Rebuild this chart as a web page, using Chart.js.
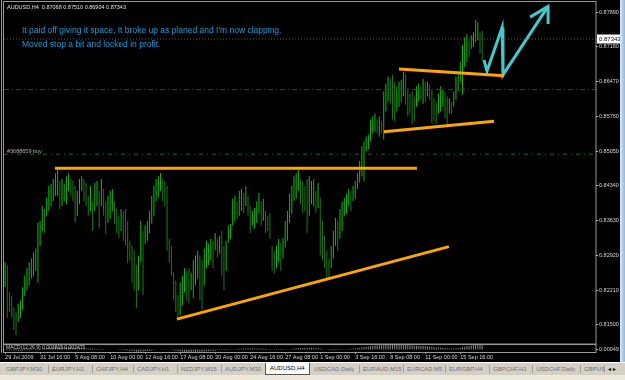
<!DOCTYPE html>
<html>
<head>
<meta charset="utf-8">
<script src="https://cdn.jsdelivr.net/npm/chart.js@4.4.0/dist/chart.umd.min.js"></script>
<style>
    body { margin: 0; background: #000; width: 625px; height: 380px; overflow: hidden; position: relative; font-family: "Liberation Sans", Arial, sans-serif; }
    #wrap { position: absolute; left: 0; top: 0; width: 625px; height: 362px; }
    #scroll { position: absolute; left: 620px; top: 0; width: 5px; height: 362px; background: linear-gradient(90deg, #dfeaf6, #8fb6de); }
    #tabs { position: absolute; left: 0; top: 362px; width: 625px; height: 12px; background: #d4d0c8; border-top: 1px solid #fff; }
    #foot { position: absolute; left: 0; top: 375px; width: 625px; height: 5px; background: #ece9d8; }
    .t { position: absolute; top: 2px; font-size: 6px; color: #707070; white-space: nowrap; border-left: 1px solid #a0a0a0; padding-left: 3px; line-height: 8px; }
    .t.act { top: 0; background: #fff; color: #000; border: 1px solid #555; border-top: none; padding: 1px 4px 2px 4px; }
</style>
</head>
<body>
<div id="wrap"><canvas id="chart"></canvas></div>
<div id="scroll"></div>
<div id="tabs">
    <span class="t" style="left:3px;border-left:none">GBPJPY,M30</span>
    <span class="t" style="left:48px">EURJPY,H1</span>
    <span class="t" style="left:92px">CHFJPY,H4</span>
    <span class="t" style="left:133px">CADJPY,H1</span>
    <span class="t" style="left:177px">NZDJPY,M15</span>
    <span class="t" style="left:221px">AUDJPY,M30</span>
    <span class="t act" style="left:265px">AUDUSD,H4</span>
    <span class="t" style="left:311px;border-left:none">USDCAD,Daily</span>
    <span class="t" style="left:359px">EURAUD,M15</span>
    <span class="t" style="left:403px">EURCAD,M5</span>
    <span class="t" style="left:445px">EURGBP,H4</span>
    <span class="t" style="left:489px">GBPCHF,H1</span>
    <span class="t" style="left:532px">USDCHF,Daily</span>
    <span class="t" style="left:580px">GBPUS</span>
    <span class="t" style="left:604px;color:#000">&#9666; &#9656;</span>
</div>
<div id="foot"></div>
<script>
// H4 bar ranges, AUDUSD 29 Jul - 16 Sep 2009
const highs = [
    0.8278, 0.8272, 0.8217, 0.8209, 0.8186, 0.8176, 0.8194, 0.8200, 0.8227, 0.8251,
    0.8266, 0.8278, 0.8286, 0.8298, 0.8306, 0.8359, 0.8363, 0.8393, 0.8387, 0.8410,
    0.8434, 0.8438, 0.8448, 0.8460, 0.8469, 0.8444, 0.8448, 0.8438, 0.8454, 0.8460,
    0.8448, 0.8444, 0.8434, 0.8424, 0.8448, 0.8454, 0.8448, 0.8440, 0.8414, 0.8434,
    0.8403, 0.8440, 0.8444, 0.8424, 0.8448, 0.8428, 0.8403, 0.8414, 0.8424, 0.8428,
    0.8403, 0.8387, 0.8373, 0.8387, 0.8383, 0.8387, 0.8363, 0.8322, 0.8312, 0.8302,
    0.8272, 0.8292, 0.8363, 0.8342, 0.8353, 0.8363, 0.8383, 0.8414, 0.8434, 0.8448,
    0.8454, 0.8460, 0.8448, 0.8444, 0.8434, 0.8326, 0.8312, 0.8257, 0.8241, 0.8211,
    0.8237, 0.8251, 0.8266, 0.8261, 0.8266, 0.8257, 0.8282, 0.8292, 0.8302, 0.8292,
    0.8282, 0.8306, 0.8322, 0.8316, 0.8326, 0.8322, 0.8338, 0.8326, 0.8332, 0.8342,
    0.8312, 0.8322, 0.8353, 0.8357, 0.8408, 0.8414, 0.8403, 0.8424, 0.8428, 0.8420,
    0.8434, 0.8414, 0.8393, 0.8383, 0.8389, 0.8403, 0.8420, 0.8403, 0.8408, 0.8383,
    0.8373, 0.8379, 0.8312, 0.8302, 0.8312, 0.8326, 0.8318, 0.8328, 0.8363, 0.8383,
    0.8418, 0.8434, 0.8454, 0.8460, 0.8469, 0.8448, 0.8444, 0.8434, 0.8448, 0.8454,
    0.8444, 0.8448, 0.8424, 0.8440, 0.8410, 0.8363, 0.8332, 0.8302, 0.8286, 0.8312,
    0.8342, 0.8369, 0.8363, 0.8387, 0.8403, 0.8410, 0.8418, 0.8428, 0.8424, 0.8434,
    0.8444, 0.8460, 0.8485, 0.8515, 0.8525, 0.8535, 0.8539, 0.8570, 0.8576, 0.8582,
    0.8570, 0.8576, 0.8566, 0.8627, 0.8643, 0.8657, 0.8653, 0.8661, 0.8647, 0.8637,
    0.8647, 0.8651, 0.8667, 0.8663, 0.8633, 0.8623, 0.8627, 0.8617, 0.8637, 0.8643,
    0.8637, 0.8653, 0.8647, 0.8647, 0.8641, 0.8631, 0.8613, 0.8606, 0.8623, 0.8637,
    0.8631, 0.8627, 0.8617, 0.8613, 0.8606, 0.8627, 0.8657, 0.8663, 0.8688, 0.8722,
    0.8738, 0.8744, 0.8732, 0.8742, 0.8748, 0.8773, 0.8769, 0.8748, 0.8751
];
const lows = [
    0.8227, 0.8164, 0.8176, 0.8166, 0.8139, 0.8129, 0.8156, 0.8164, 0.8180, 0.8209,
    0.8221, 0.8231, 0.8245, 0.8249, 0.8261, 0.8237, 0.8312, 0.8342, 0.8338, 0.8373,
    0.8383, 0.8393, 0.8403, 0.8414, 0.8414, 0.8387, 0.8393, 0.8403, 0.8397, 0.8424,
    0.8414, 0.8403, 0.8359, 0.8373, 0.8397, 0.8424, 0.8403, 0.8393, 0.8373, 0.8383,
    0.8342, 0.8383, 0.8393, 0.8347, 0.8393, 0.8373, 0.8336, 0.8359, 0.8367, 0.8383,
    0.8357, 0.8338, 0.8328, 0.8342, 0.8322, 0.8312, 0.8276, 0.8282, 0.8237, 0.8221,
    0.8184, 0.8221, 0.8278, 0.8211, 0.8316, 0.8322, 0.8338, 0.8357, 0.8373, 0.8403,
    0.8410, 0.8424, 0.8403, 0.8393, 0.8302, 0.8278, 0.8251, 0.8200, 0.8176, 0.8164,
    0.8170, 0.8190, 0.8217, 0.8200, 0.8194, 0.8221, 0.8205, 0.8231, 0.8245, 0.8200,
    0.8180, 0.8231, 0.8266, 0.8272, 0.8282, 0.8266, 0.8302, 0.8288, 0.8296, 0.8251,
    0.8221, 0.8261, 0.8318, 0.8326, 0.8353, 0.8363, 0.8367, 0.8373, 0.8383, 0.8377,
    0.8393, 0.8373, 0.8338, 0.8353, 0.8347, 0.8359, 0.8379, 0.8353, 0.8363, 0.8338,
    0.8342, 0.8326, 0.8261, 0.8255, 0.8266, 0.8278, 0.8261, 0.8286, 0.8308, 0.8322,
    0.8359, 0.8377, 0.8403, 0.8408, 0.8424, 0.8397, 0.8379, 0.8383, 0.8338, 0.8373,
    0.8397, 0.8393, 0.8379, 0.8389, 0.8292, 0.8282, 0.8266, 0.8245, 0.8243, 0.8266,
    0.8286, 0.8312, 0.8302, 0.8326, 0.8342, 0.8373, 0.8377, 0.8393, 0.8383, 0.8403,
    0.8408, 0.8428, 0.8440, 0.8454, 0.8444, 0.8505, 0.8509, 0.8525, 0.8541, 0.8545,
    0.8541, 0.8535, 0.8541, 0.8529, 0.8586, 0.8606, 0.8602, 0.8570, 0.8566, 0.8586,
    0.8596, 0.8606, 0.8617, 0.8600, 0.8576, 0.8582, 0.8560, 0.8566, 0.8596, 0.8606,
    0.8610, 0.8602, 0.8606, 0.8617, 0.8610, 0.8562, 0.8566, 0.8560, 0.8582, 0.8586,
    0.8596, 0.8572, 0.8556, 0.8582, 0.8582, 0.8596, 0.8610, 0.8627, 0.8647, 0.8621,
    0.8677, 0.8688, 0.8698, 0.8714, 0.8718, 0.8728, 0.8732, 0.8704, 0.8690
];
// MACD(12,26,9) main line, one value per bar
const macd = [
    -0.0010, -0.0012, -0.0014, -0.0016, -0.0019, -0.0022, -0.0023, -0.0023, -0.0021, -0.0018,
    -0.0015, -0.0011, -0.0007, -0.0003, 0.0001, 0.0006, 0.0011, 0.0017, 0.0022, 0.0027,
    0.0032, 0.0036, 0.0040, 0.0043, 0.0046, 0.0046, 0.0045, 0.0044, 0.0043, 0.0043,
    0.0041, 0.0039, 0.0035, 0.0032, 0.0031, 0.0030, 0.0028, 0.0026, 0.0023, 0.0021,
    0.0017, 0.0016, 0.0015, 0.0012, 0.0012, 0.0010, 0.0006, 0.0004, 0.0003, 0.0002,
    0.0000, -0.0003, -0.0006, -0.0008, -0.0011, -0.0013, -0.0018, -0.0022, -0.0027, -0.0032,
    -0.0038, -0.0040, -0.0037, -0.0036, -0.0032, -0.0028, -0.0023, -0.0016, -0.0009, -0.0003,
    0.0002, 0.0006, 0.0008, 0.0009, 0.0006, 0.0000, -0.0006, -0.0014, -0.0022, -0.0030,
    -0.0035, -0.0039, -0.0041, -0.0043, -0.0044, -0.0043, -0.0042, -0.0040, -0.0040, -0.0041,
    -0.0040, -0.0036, -0.0031, -0.0027, -0.0023, -0.0020, -0.0015, -0.0012, -0.0009, -0.0009,
    -0.0011, -0.0011, -0.0007, -0.0004, 0.0002, 0.0007, 0.0010, 0.0014, 0.0018, 0.0020,
    0.0023, 0.0024, 0.0022, 0.0020, 0.0019, 0.0019, 0.0020, 0.0019, 0.0018, 0.0015,
    0.0013, 0.0010, 0.0004, -0.0002, -0.0005, -0.0007, -0.0009, -0.0008, -0.0004, 0.0001,
    0.0007, 0.0013, 0.0019, 0.0024, 0.0029, 0.0030, 0.0030, 0.0030, 0.0030, 0.0030,
    0.0030, 0.0030, 0.0028, 0.0027, 0.0020, 0.0012, 0.0004, -0.0004, -0.0010, -0.0013,
    -0.0013, -0.0012, -0.0010, -0.0006, -0.0002, 0.0003, 0.0007, 0.0012, 0.0015, 0.0019,
    0.0023, 0.0028, 0.0034, 0.0042, 0.0048, 0.0055, 0.0060, 0.0067, 0.0073, 0.0077,
    0.0080, 0.0082, 0.0083, 0.0088, 0.0094, 0.0099, 0.0102, 0.0101, 0.0100, 0.0099,
    0.0098, 0.0097, 0.0097, 0.0094, 0.0089, 0.0084, 0.0078, 0.0074, 0.0072, 0.0070,
    0.0068, 0.0067, 0.0065, 0.0063, 0.0058, 0.0052, 0.0047, 0.0042, 0.0038, 0.0036,
    0.0033, 0.0029, 0.0025, 0.0022, 0.0020, 0.0021, 0.0025, 0.0029, 0.0035, 0.0044,
    0.0054, 0.0063, 0.0070, 0.0077, 0.0082, 0.0090, 0.0095, 0.0095, 0.0094
];

// axis ticks
const priceTicks = [0.87890, 0.87530, 0.87180, 0.86820, 0.86470, 0.86110, 0.85760, 0.85400, 0.85050, 0.84690,
    0.84340, 0.83980, 0.83630, 0.83270, 0.82920, 0.82570, 0.82210, 0.81860, 0.81500, 0.81150];
const timeTickBars = [0, 16, 32, 48, 64, 80, 96, 112, 128, 144, 160, 176, 192, 208];
const timeLabels = ['29 Jul 2009', '31 Jul 16:00', '5 Aug 08:00', '10 Aug 00:00', '12 Aug 16:00', '17 Aug 08:00',
    '20 Aug 00:00', '24 Aug 16:00', '27 Aug 08:00', '1 Sep 00:00', '3 Sep 16:00', '8 Sep 08:00', '11 Sep 00:00', '15 Sep 16:00'];
const macdTicks = [0.000498];

// drawn objects (bar index, price)
const resistance = [{x: 22.8, y: 0.8470}, {x: 188.2, y: 0.8470}];
const support = [{x: 78.5, y: 0.8162}, {x: 202.8, y: 0.8310}];
const channelTop = [{x: 180.0, y: 0.8673}, {x: 228.0, y: 0.8659}];
const channelBottom = [{x: 173.1, y: 0.8545}, {x: 223.4, y: 0.8566}];
const arrowPath = [{x: 218.8, y: 0.8691}, {x: 220.2, y: 0.8669}, {x: 227.1, y: 0.8758}, {x: 227.5, y: 0.8661}, {x: 248.1, y: 0.8801}];
const arrowHead = [{x: 239.9, y: 0.8779}, {x: 248.1, y: 0.8801}, {x: 248.1, y: 0.8765}];

// horizontal levels
const bidPrice = 0.87343;
const stopLevel = 0.8631;
const buyLevel = 0.8499;

const header = 'AUDUSD,H4  0.87068 0.87510 0.86904 0.87343';
const noteLines = ["It paid off giving it space, It broke up as planed and I'm now clapping.", 'Moved stop a bit and locked in profit.'];

const xMin = -0.5, xMax = 270;
const fontName = '"Liberation Sans", Arial, sans-serif';

function hLine(y) {
    return [{x: xMin, y: y}, {x: xMax, y: y}];
}

function lineSet(data, color, width, dash) {
    return {
        type: 'line',
        data: data,
        borderColor: color,
        borderWidth: width,
        borderDash: dash || [],
        pointRadius: 0,
        fill: false,
        tension: 0,
        yAxisID: 'y',
        order: 1
    };
}

const barColors = highs.map((h, i) => {
    if (i === 0) return '#10bc10';
    return (h + lows[i]) >= (highs[i - 1] + lows[i - 1]) ? '#10bc10' : '#1c7a1c';
});

// frames, texts and price marker
const decorPlugin = {
    id: 'decor',
    beforeDraw(chart) {
        const ctx = chart.ctx;
        ctx.save();
        ctx.fillStyle = '#000';
        ctx.fillRect(0, 0, chart.width, chart.height);
        ctx.restore();
    },
    afterDraw(chart) {
        const ctx = chart.ctx;
        const area = chart.chartArea;
        const y = chart.scales.y;
        const m = chart.scales.macd;
        ctx.save();

        // window frames
        ctx.strokeStyle = '#9a9a9a';
        ctx.lineWidth = 1;
        ctx.beginPath();
        ctx.moveTo(1.5, 0); ctx.lineTo(1.5, 353);
        ctx.stroke();
        ctx.strokeRect(3.5, 1.5, area.right - 3.5, y.bottom - 1.5);
        ctx.strokeRect(3.5, m.top + 0.5, area.right - 3.5, m.bottom - m.top);

        // header
        ctx.fillStyle = '#e0e0e0';
        ctx.font = '5.5px ' + fontName;
        ctx.textBaseline = 'middle';
        ctx.fillText(header, 7, 7);

        // notes
        ctx.fillStyle = '#1f9bd6';
        ctx.font = '8.5px ' + fontName;
        ctx.fillText(noteLines[0], 22, 31);
        ctx.fillText(noteLines[1], 22, 45);

        // order label
        ctx.fillStyle = '#b0b0b0';
        ctx.font = '5.5px ' + fontName;
        ctx.fillText('#3688659 buy', 7, y.getPixelForValue(buyLevel) - 3);

        // macd label
        ctx.fillStyle = '#c8c8c8';
        ctx.font = '5px ' + fontName;
        ctx.fillText('MACD(12,26,9) 0.003815 0.003470', 6, m.top + 4);

        // current price box
        const py = y.getPixelForValue(bidPrice);
        ctx.fillStyle = '#fff';
        ctx.fillRect(area.right + 1, py - 4.5, 23, 9);
        ctx.fillStyle = '#000';
        ctx.font = '6px ' + fontName;
        ctx.fillText(bidPrice.toFixed(5), area.right + 3, py);
        ctx.restore();
    }
};

const ctx = document.getElementById('chart').getContext('2d');
new Chart(ctx, {
    type: 'bar',
    data: {
        datasets: [
            lineSet(hLine(bidPrice), '#5a5a5a', 1, [1, 2]),
            lineSet(hLine(stopLevel), '#c80000', 1, [5, 3, 1, 3]),
            lineSet(hLine(buyLevel), '#1c6e1c', 1, [4, 4, 1, 4]),
            lineSet(resistance, '#ffa500', 3),
            lineSet(support, '#ffa500', 3),
            lineSet(channelTop, '#ffa500', 3),
            lineSet(channelBottom, '#ffa500', 3),
            lineSet(arrowPath, '#45c8cc', 3),
            lineSet(arrowHead, '#45c8cc', 3),
            {
                type: 'bar',
                data: highs.map((h, i) => ({x: i, y: [lows[i], h]})),
                backgroundColor: barColors,
                barThickness: 1,
                inflateAmount: 0,
                grouped: false,
                yAxisID: 'y',
                order: 5
            },
            {
                type: 'bar',
                data: macd.map((v, i) => ({x: i, y: v})),
                backgroundColor: '#8a8a8a',
                barThickness: 1,
                inflateAmount: 0,
                grouped: false,
                yAxisID: 'macd',
                order: 5
            }
        ]
    },
    options: {
        responsive: true,
        maintainAspectRatio: false,
        animation: false,
        events: [],
        layout: {
            padding: {left: 4, right: 6, top: 2, bottom: 0}
        },
        plugins: {
            legend: {display: false},
            tooltip: {enabled: false}
        },
        scales: {
            x: {
                type: 'linear',
                offset: false,
                min: xMin,
                max: xMax,
                afterBuildTicks: scale => {
                    scale.ticks = timeTickBars.map(v => ({value: v}));
                },
                afterFit: scale => {
                    scale.height = 10;
                },
                grid: {offset: false, drawOnChartArea: false, drawTicks: true, tickLength: 2, color: '#9a9a9a'},
                border: {display: false},
                ticks: {
                    autoSkip: false,
                    maxRotation: 0,
                    align: 'start',
                    padding: 0,
                    color: '#d8d8d8',
                    font: {family: fontName, size: 5.5},
                    callback: (v, i) => timeLabels[i]
                }
            },
            y: {
                type: 'linear',
                position: 'right',
                stack: 'win',
                stackWeight: 342,
                min: 0.81110,
                max: 0.88052,
                afterBuildTicks: scale => {
                    scale.ticks = priceTicks.map(v => ({value: v}));
                },
                afterFit: scale => {
                    scale.width = 23;
                },
                grid: {drawOnChartArea: false, drawTicks: true, tickLength: 2, color: '#c0c0c0'},
                border: {display: false},
                ticks: {
                    padding: 1,
                    color: '#d8d8d8',
                    font: {family: fontName, size: 5.5},
                    callback: v => v.toFixed(5)
                }
            },
            macd: {
                type: 'linear',
                position: 'right',
                stack: 'win',
                stackWeight: 8,
                min: -0.0045,
                max: 0.0105,
                afterBuildTicks: scale => {
                    scale.ticks = macdTicks.map(v => ({value: v}));
                },
                afterFit: scale => {
                    scale.width = 23;
                },
                grid: {drawOnChartArea: false, drawTicks: true, tickLength: 2, color: '#c0c0c0'},
                border: {display: false},
                ticks: {
                    padding: 1,
                    color: '#d8d8d8',
                    font: {family: fontName, size: 5.5},
                    callback: v => v.toFixed(6)
                }
            }
        }
    },
    plugins: [decorPlugin]
});
</script>
</body>
</html>
